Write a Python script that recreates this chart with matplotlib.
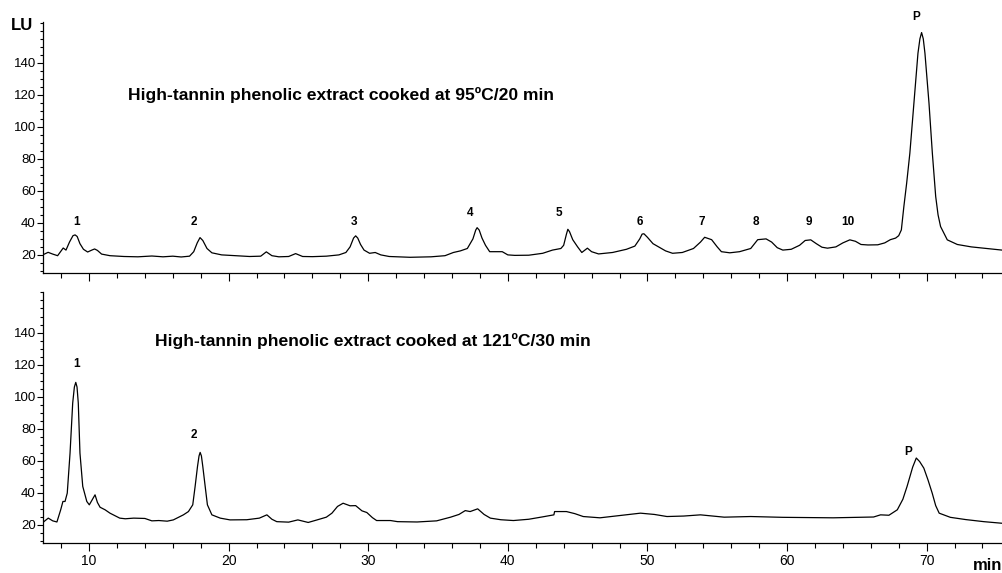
import matplotlib
matplotlib.use("Agg")
import matplotlib.pyplot as plt
from matplotlib.ticker import MultipleLocator

plt.rcParams['font.family'] = ['Liberation Sans', 'DejaVu Sans']

# chromatogram 1: 95 C / 20 min (retention time in min, signal in LU)
t_95 = [6.68, 7.07, 7.4, 7.75, 8.0, 8.15, 8.35, 8.6, 8.85, 9.0, 9.15, 9.35, 9.6, 9.9,
        10.2, 10.4, 10.6, 10.9, 11.5, 12.5, 13.5, 14.5, 15.3, 16.0, 16.6, 17.2, 17.5,
        17.75, 17.95, 18.15, 18.45, 18.8, 19.5, 20.5, 21.5, 22.3, 22.7, 23.1, 23.6, 24.3,
        24.8, 25.3, 26.0, 27.0, 27.9, 28.4, 28.7, 28.95, 29.1, 29.25, 29.45, 29.7, 30.1,
        30.5, 30.9, 31.5, 33.0, 34.5, 35.5, 36.1, 36.6, 37.1, 37.5, 37.7, 37.8, 37.95,
        38.15, 38.4, 38.7, 39.3, 39.6, 40.0, 40.5, 41.5, 42.5, 43.2, 43.8, 44.0, 44.2,
        44.3, 44.42, 44.65, 45.0, 45.3, 45.7, 46.0, 46.5, 47.5, 48.5, 49.1, 49.45,
        49.62, 49.75, 50.0, 50.4, 50.8, 51.3, 51.8, 52.5, 53.3, 53.8, 54.1, 54.6, 55.0,
        55.3, 55.9, 56.6, 57.4, 57.9, 58.5, 58.9, 59.3, 59.7, 60.3, 60.9, 61.3, 61.7,
        62.1, 62.5, 62.9, 63.5, 64.0, 64.5, 64.9, 65.3, 65.8, 66.5, 67.0, 67.4, 67.78,
        68.0, 68.19, 68.37, 68.57, 68.8, 69.09, 69.38, 69.52, 69.64, 69.76, 69.88,
        70.17, 70.41, 70.65, 70.82, 71.0, 71.48, 72.2, 73.2, 74.3, 75.4]
lu_95 = [20, 21.6, 20.5, 19.5, 22.5, 24.3, 23.0, 28, 32.0, 32.5, 31.5, 27, 23.5, 21.8,
         23.0, 23.7, 22.8, 20.5, 19.5, 19.0, 18.8, 19.3, 18.8, 19.2, 18.7, 19.2, 22,
         27.5, 30.8, 29, 24, 21.3, 20, 19.5, 19.0, 19.2, 21.9, 19.5, 18.8, 19.0,
         20.8, 19.0, 18.9, 19.2, 20, 21.5, 25, 30.5, 31.9, 30.5, 26.5, 23.0, 21.0,
         21.5, 20, 19, 18.5, 18.8, 19.5, 21.5, 22.5, 24, 30, 35.5, 37, 35.5,
         30.5, 26, 22, 22, 22, 20, 19.7, 19.8, 21, 23, 24, 26, 33,
         36, 34.5, 29.5, 25, 21.5, 24.2, 22, 20.6, 21.5, 23.5, 25.5, 30,
         33, 33.2, 31, 27, 25, 22.5, 21, 21.5, 24, 28, 31, 29.5, 25,
         22, 21.3, 22, 24, 29.5, 30, 28, 24.5, 23, 23.5, 26, 29, 29.4,
         27, 24.8, 24.2, 25, 27.5, 29.4, 28.5, 26.5, 26.2, 26.3, 27.5, 29.5, 30.5,
         32, 35.6, 50.2, 64.8, 83.6, 114.8, 146, 155, 158.9, 155, 146,
         114.8, 83.6, 56.5, 45, 37.7, 29.4, 26.5, 25, 24, 23]

# chromatogram 2: 121 C / 30 min
t_121 = [6.68, 7.08, 7.4, 7.7, 7.97, 8.13, 8.28, 8.44, 8.64, 8.83, 8.95, 9.05, 9.14,
         9.23, 9.35, 9.55, 9.84, 10.02, 10.25, 10.43, 10.6, 10.79, 11.15, 11.5, 12.2,
         12.6, 13.2, 14.0, 14.5, 15.0, 15.6, 16.04, 16.76, 17.12, 17.43, 17.6, 17.77,
         17.88, 17.96, 18.05, 18.15, 18.32, 18.48, 18.8, 19.4, 20.1, 21.3, 22.2, 22.74,
         23.1, 23.45, 24.3, 24.96, 25.7, 26.3, 27.0, 27.4, 27.8, 28.2, 28.7, 29.1, 29.55,
         29.9, 30.3, 30.6, 31.6, 32.1, 33.5, 34.9, 35.9, 36.5, 36.95, 37.3, 37.84, 38.3,
         38.75, 39.5, 40.4, 41.5, 42.5, 43.3, 43.35, 44.2, 44.8, 45.4, 46.6, 48.0, 49.5,
         50.5, 51.4, 52.6, 53.8, 55.5, 57.4, 59.7, 63.3, 66.2, 66.7, 67.3, 67.9, 68.3,
         68.6, 69.0, 69.26, 69.5, 69.8, 70.1, 70.4, 70.65, 70.9, 71.7, 72.8, 74.1, 75.4]
lu_121 = [21.4, 24.2, 22.5, 21.8, 29.4, 34.6, 34.6, 39.8, 64.8, 96, 106, 108.9, 106,
          96, 64.8, 44, 34.6, 32.5, 36, 38.75, 34, 31, 29.4, 27.3, 24.2,
          23.8, 24.2, 24, 22.5, 22.7, 22.3, 23.1, 26.25, 28.3, 32.5, 44, 56.4,
          63, 65.2, 63, 56.4, 44, 32.5, 26.25, 24.2, 23.1, 23.2, 24.2, 26.25,
          23.5, 22, 21.7, 23.1, 21.5, 23, 24.8, 27.3, 31.5, 33.5, 31.9, 32, 28.75,
          27.7, 24.5, 22.7, 22.7, 22.0, 21.8, 22.5, 24.8, 26.5, 28.9, 28.3, 30, 26.5,
          24.2, 23.2, 22.7, 23.5, 25, 26.25, 28.3, 28.3, 27, 25.2, 24.4, 25.8, 27.3,
          26.5, 25.2, 25.5, 26.25, 24.8, 25.2, 24.7, 24.4, 24.9, 26.25, 26, 29.4, 36,
          44, 56, 61.7, 59.5, 55.4, 48, 39.8, 32, 27.3, 24.7, 23.3, 22, 21]

# peak labels
lab_95 = ['1', '2', '3', '4', '5', '6', '7', '8', '9', '10', 'P']
lab_95_x = [9.12, 17.48, 29.0, 37.31, 43.69, 49.45, 53.92, 57.74, 61.56, 64.39, 69.26]
lab_95_y = [40.8, 40.8, 40.8, 46.4, 46.4, 40.8, 40.8, 40.8, 40.8, 40.8, 168.6]

lab_121 = ['1', '2', 'P']
lab_121_x = [9.12, 17.48, 68.66]
lab_121_y = [120.4, 76.25, 65.4]

fig = plt.figure(figsize=(10.02, 5.73), dpi=100)
ax1 = fig.add_axes([0.0426, 0.5236, 0.9574, 0.438])
ax2 = fig.add_axes([0.0426, 0.0524, 0.9574, 0.4386])

panels = [
    (ax1, t_95, lu_95, lab_95, lab_95_x, lab_95_y,
     'High-tannin phenolic extract cooked at 95ºC/20 min', 12.82, 119.6),
    (ax2, t_121, lu_121, lab_121, lab_121_x, lab_121_y,
     'High-tannin phenolic extract cooked at 121ºC/30 min', 14.73, 134.6),
]

for ax, t, y, labs, lx, ly, title, tx, ty in panels:
    ax.plot(t, y, color='black', lw=0.9, solid_joinstyle='round')
    for s, x0, y0 in zip(labs, lx, ly):
        ax.text(x0, y0, s, ha='center', va='center', fontsize=8.5,
                fontweight='bold', clip_on=False)
    ax.text(tx, ty, title, ha='left', va='center', fontsize=12.6, fontweight='bold')

    ax.set_xlim(6.68, 75.4)
    ax.set_ylim(8.7, 165.5)
    ax.spines['top'].set_visible(False)
    ax.spines['right'].set_visible(False)
    ax.spines['left'].set_linewidth(0.9)
    ax.spines['bottom'].set_linewidth(0.9)
    ax.set_yticks(range(20, 141, 20))
    ax.yaxis.set_minor_locator(MultipleLocator(5))
    ax.xaxis.set_major_locator(MultipleLocator(10))
    ax.xaxis.set_minor_locator(MultipleLocator(2))
    ax.tick_params(axis='y', which='major', length=4, width=0.8, labelsize=9.5, pad=1)
    ax.tick_params(axis='y', which='minor', length=2.5, width=0.8)
    ax.tick_params(axis='x', which='major', length=6, width=0.8, labelsize=10, pad=2)
    ax.tick_params(axis='x', which='minor', length=3.5, width=0.8)

ax1.tick_params(axis='x', labelbottom=False)

fig.text(10.7 / 1002, 1 - 25 / 573, 'LU', ha='left', va='center',
         fontsize=12, fontweight='bold')
fig.text(972.7 / 1002, 1 - 565 / 573, 'min', ha='left', va='center',
         fontsize=12, fontweight='bold')

fig.savefig('out.png', dpi=100)
